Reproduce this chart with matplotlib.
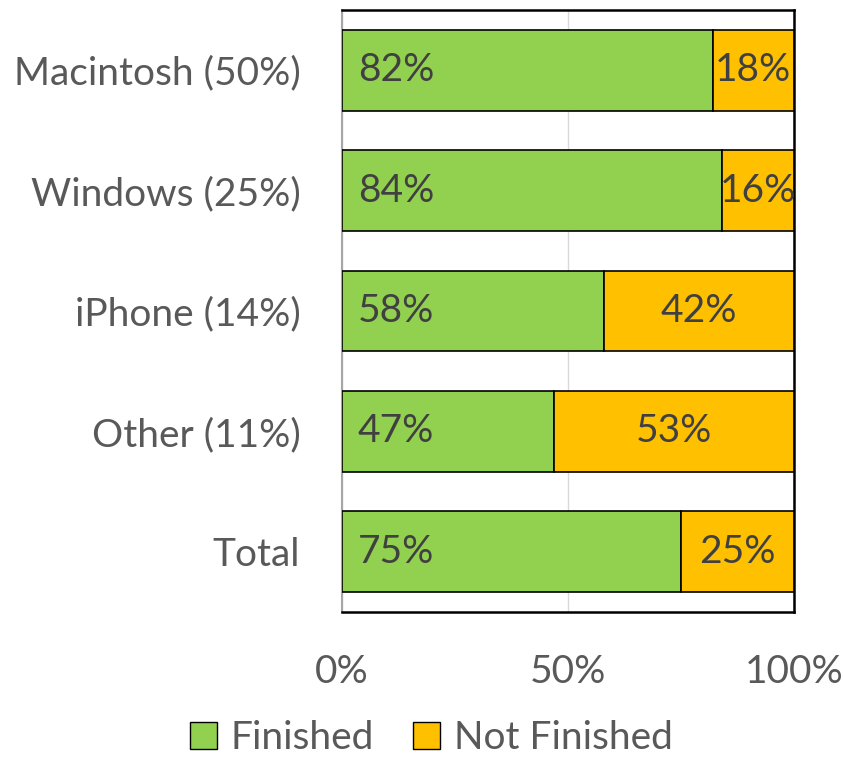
import matplotlib
matplotlib.use("Agg")
import matplotlib.pyplot as plt
from matplotlib.patches import Patch

categories = ["Macintosh (50%)", "Windows (25%)", "iPhone (14%)", "Other (11%)", "Total"]
finished = [82, 84, 58, 47, 75]
not_finished = [18, 16, 42, 53, 25]
xticks = [0, 50, 100]
xtick_labels = ["0%", "50%", "100%"]

plt.rcParams['font.family'] = ['Lato', 'DejaVu Sans']
label_color = "#404040"
axis_color = "#595959"
green = "#92D050"
orange = "#FFC000"

fig = plt.figure(figsize=(8.44, 7.58), dpi=100)
ax = fig.add_axes([342/844, 1-612/758, (794-342)/844, (612-10)/758])

y = list(range(len(categories)))
ax.barh(y, finished, height=0.67, color=green, edgecolor="black", linewidth=1.2, zorder=3)
ax.barh(y, not_finished, left=finished, height=0.67, color=orange, edgecolor="black", linewidth=1.2, zorder=3)

for i in y:
    ax.text(3.5, i, f"{finished[i]}%", va="center", ha="left", fontsize=28, color=label_color, zorder=4)
    nf_center = finished[i] + not_finished[i] / 2
    ax.text(nf_center, i, f"{not_finished[i]}%", va="center", ha="center", fontsize=28, color=label_color, zorder=4)

ax.set_ylim(len(categories) - 0.5, -0.5)
ax.set_xlim(0, 100)
ax.set_yticks(y)
ax.set_yticklabels(categories, fontsize=28, color=axis_color)
ax.set_xticks(xticks)
ax.set_xticklabels(xtick_labels, fontsize=28, color=axis_color)
ax.tick_params(axis="both", length=0)
ax.tick_params(axis="x", pad=30)
ax.tick_params(axis="y", pad=30)
ax.xaxis.grid(True, color="#D9D9D9", linewidth=1.0, zorder=0)
ax.set_axisbelow(True)
for s in ax.spines.values():
    s.set_color("black")
    s.set_linewidth(1.8)
ax.spines["left"].set_color("#A6A6A6")
ax.spines["left"].set_linewidth(1.5)

handles = [Patch(facecolor=green, edgecolor="black", label="Finished"),
           Patch(facecolor=orange, edgecolor="black", label="Not Finished")]
fig.legend(handles=handles, loc="center", bbox_to_anchor=(431/844, 1-738/758), ncol=2,
           frameon=False, fontsize=28, labelcolor=axis_color, handlelength=0.7, handleheight=0.7,
           handletextpad=0.35, columnspacing=1.0, borderpad=0.1)

fig.savefig("out.png", dpi=100)
